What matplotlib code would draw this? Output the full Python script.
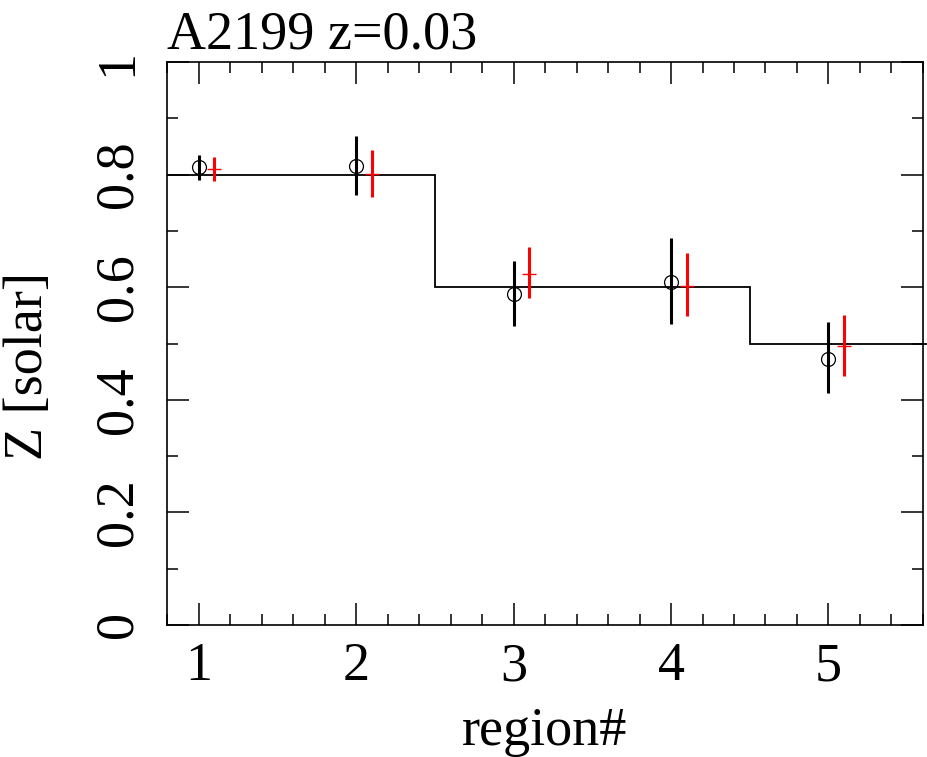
import matplotlib
matplotlib.use("Agg")
import matplotlib.pyplot as plt
from matplotlib.ticker import MultipleLocator

plt.rcParams['font.family'] = ['Liberation Serif', 'DejaVu Serif']

# metallicity per region
regions = [1, 2, 3, 4, 5]
z_black = [0.813, 0.816, 0.588, 0.609, 0.472]
lo_black = [0.790, 0.763, 0.531, 0.535, 0.412]
hi_black = [0.835, 0.869, 0.647, 0.687, 0.539]

regions_red = [1.1, 2.1, 3.1, 4.1, 5.1]
z_red = [0.810, 0.802, 0.623, 0.603, 0.496]
lo_red = [0.789, 0.761, 0.581, 0.549, 0.443]
hi_red = [0.832, 0.844, 0.671, 0.661, 0.551]

# model step profile
step_edges = [0.8, 2.5, 4.5, 5.64]
step_vals = [0.8, 0.6, 0.5]

FS = 39

fig = plt.figure(figsize=(9.28, 7.57), dpi=100)
ax = fig.add_axes([0.180, 0.1744, 0.8146, 0.7436])

ax.stairs(step_vals, step_edges, baseline=None, color='black', lw=1.3, clip_on=False)

err_b = [[z - l for z, l in zip(z_black, lo_black)], [h - z for z, h in zip(z_black, hi_black)]]
ax.errorbar(regions, z_black, yerr=err_b, fmt='o', mfc='none', mec='black', mew=0.9, ms=10,
            ecolor='black', elinewidth=2.2, capsize=0, zorder=3)

err_r = [[z - l for z, l in zip(z_red, lo_red)], [h - z for z, h in zip(z_red, hi_red)]]
ax.errorbar(regions_red, z_red, yerr=err_r, fmt='+', mec='red', mew=1.0, ms=10,
            ecolor='red', elinewidth=2.2, capsize=0, zorder=3)

ax.set_xlim(0.8, 5.6)
ax.set_ylim(0, 1)
ax.xaxis.set_major_locator(MultipleLocator(1))
ax.xaxis.set_minor_locator(MultipleLocator(0.2))
ax.set_yticks([0, 0.2, 0.4, 0.6, 0.8, 1.0])
ax.set_yticklabels(['0', '0.2', '0.4', '0.6', '0.8', '1'])
ax.yaxis.set_minor_locator(MultipleLocator(0.1))

ax.tick_params(which='both', direction='in', top=True, right=True, width=1.1, labelsize=FS)
ax.tick_params(which='major', length=16)
ax.tick_params(which='minor', length=8)
ax.tick_params(axis='x', pad=12)
ax.tick_params(axis='y', pad=17)
for lab in ax.get_yticklabels():
    lab.set_rotation(90)
    lab.set_va('center')
for sp in ax.spines.values():
    sp.set_linewidth(1.2)

ax.set_xlabel('region#', fontsize=FS, labelpad=10)
ax.set_ylabel('Z [solar]', fontsize=FS)
ax.yaxis.set_label_coords(-0.150, 0.46)
ax.set_title('A2199 z=0.03', fontsize=FS, loc='left', pad=10)

fig.savefig('out.png', dpi=100)
